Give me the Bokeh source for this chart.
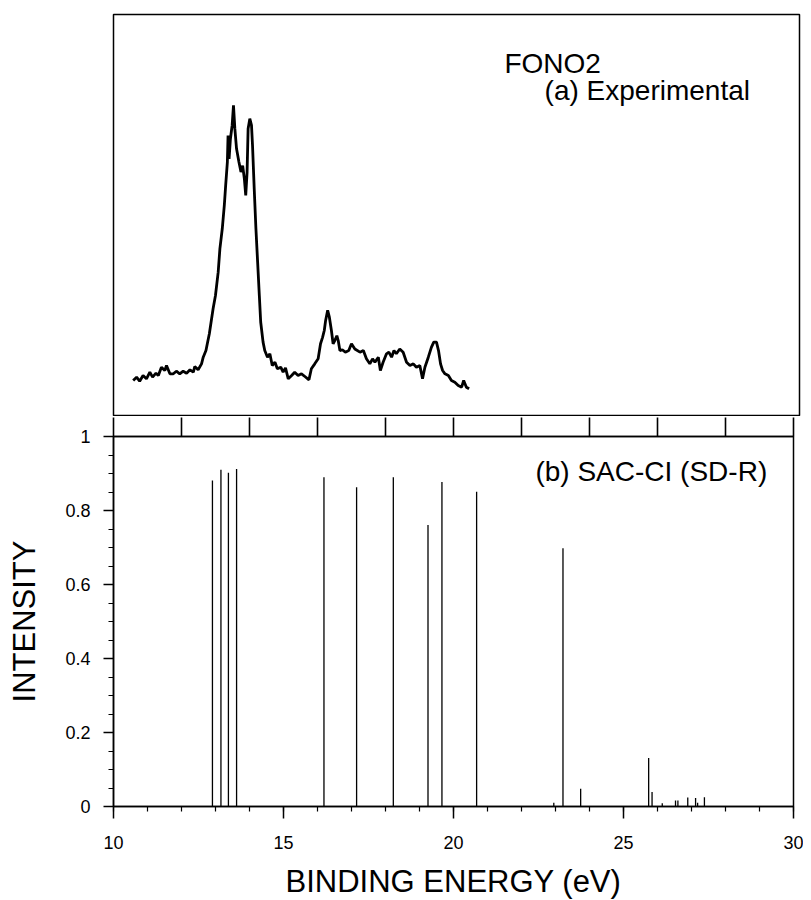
from bokeh.plotting import figure
from bokeh.layouts import column
from bokeh.models import Range1d, FixedTicker, LinearAxis, ColumnDataSource
from bokeh.core.properties import value
from bokeh.embed import file_html
from bokeh.resources import INLINE

FONT = "Liberation Sans"

# ---- (a) experimental spectrum (binding energy in eV, arbitrary intensity) ----
exp_energy = [10.47, 10.57, 10.66, 10.76, 10.86, 10.96, 11.04, 11.14, 11.21, 11.30,
              11.40, 11.45, 11.55, 11.65, 11.74, 11.84, 11.94, 12.04, 12.14, 12.24,
              12.28, 12.38, 12.48, 12.53, 12.61, 12.65, 12.71, 12.82, 12.89, 12.97,
              13.02, 13.09, 13.15, 13.19, 13.24, 13.26, 13.29, 13.33, 13.38, 13.42,
              13.46, 13.51, 13.58, 13.64, 13.69, 13.74, 13.78, 13.82, 13.85, 13.90,
              13.95, 13.98, 14.03, 14.08, 14.13, 14.18, 14.22, 14.29, 14.34, 14.42,
              14.49, 14.56, 14.64, 14.71, 14.81, 14.88, 14.95, 15.03, 15.13, 15.22,
              15.32, 15.42, 15.52, 15.64, 15.71, 15.81, 15.91, 15.98, 16.04, 16.09,
              16.13, 16.19, 16.24, 16.30, 16.35, 16.40, 16.46, 16.50, 16.55, 16.62,
              16.71, 16.81, 16.89, 16.99, 17.14, 17.24, 17.33, 17.43, 17.51, 17.58,
              17.68, 17.74, 17.82, 17.92, 17.99, 18.07, 18.14, 18.21, 18.31, 18.41,
              18.51, 18.61, 18.71, 18.80, 18.90, 18.98, 19.05, 19.15, 19.24, 19.31,
              19.39, 19.45, 19.51, 19.57, 19.64, 19.74, 19.83, 19.93, 20.03, 20.13,
              20.19, 20.27, 20.35]
exp_intensity = [8.96, 9.78, 8.78, 10.2, 9.38, 11.02, 9.78, 10.77, 10.2, 12.26,
                 11.44, 12.69, 10.62, 10.62, 11.27, 10.62, 11.27, 10.77, 11.62, 11.02,
                 12.44, 11.62, 13.1, 14.75, 16.4, 18.1, 20.6, 26.8, 30.1, 35.9,
                 41.7, 46.7, 52.5, 57.5, 63.3, 69.9, 64.1, 69.1, 72.4, 77.4,
                 71.6, 66.6, 63.3, 60.8, 62.4, 59.1, 55.0, 60.8, 71.6, 74.1,
                 72.4, 67.4, 56.6, 46.7, 38.4, 30.1, 23.5, 18.5, 16.4, 14.75,
                 15.6, 12.69, 13.5, 11.87, 12.26, 11.02, 12.1, 9.38, 10.2, 11.02,
                 10.2, 10.62, 9.95, 9.13, 11.87, 13.1, 14.35, 18.1, 19.7, 21.4,
                 23.9, 26.4, 24.7, 21.4, 18.1, 18.9, 20.1, 18.9, 16.4, 16.6,
                 16.0, 16.4, 18.1, 16.8, 16.0, 16.4, 14.35, 13.1, 14.35, 13.5,
                 14.75, 11.44, 13.5, 15.6, 16.0, 14.75, 16.4, 15.6, 16.8, 16.0,
                 13.5, 12.69, 13.1, 12.26, 12.69, 9.38, 12.26, 14.75, 17.2, 18.5,
                 18.5, 16.4, 13.1, 11.44, 10.62, 10.2, 8.96, 8.53, 7.71, 7.29,
                 8.96, 7.29, 6.89]

# ---- (b) SAC-CI (SD-R) stick spectrum ----
stick_energy = [12.91, 13.16, 13.38, 13.62, 16.19, 17.15, 18.23, 19.25, 19.66, 20.68,
                22.95, 23.22, 23.74, 25.74, 25.84, 26.14, 26.53, 26.60, 26.89, 27.12,
                27.18, 27.38]
stick_intensity = [0.881, 0.910, 0.902, 0.912, 0.890, 0.863, 0.890, 0.761, 0.877, 0.851,
                   0.010, 0.698, 0.048, 0.131, 0.039, 0.009, 0.016, 0.016, 0.024, 0.023,
                   0.010, 0.025]

top_ticks = [10, 12, 14, 16, 18, 20, 22, 24, 26, 28, 30]
x_major = [10, 15, 20, 25, 30]
x_major_labels = ["10", "15", "20", "25", "30"]
x_minor = [10, 11, 12, 13, 14, 15, 16, 17, 18, 19, 20, 21, 22, 23, 24, 25, 26, 27, 28, 29, 30]
y_major = [0, 0.2, 0.4, 0.6, 0.8, 1.0]
y_major_labels = ["0", "0.2", "0.4", "0.6", "0.8", "1"]
y_minor = [0, 0.05, 0.1, 0.15, 0.2, 0.25, 0.3, 0.35, 0.4, 0.45, 0.5, 0.55, 0.6, 0.65,
           0.7, 0.75, 0.8, 0.85, 0.9, 0.95, 1.0]

top_texts = ["FONO2", "(a) Experimental"]
top_text_x = [21.39, 22.57]
top_text_y = [87.8, 81.1]
bot_texts = ["(b) SAC-CI (SD-R)"]
bot_text_x = [22.41]
bot_text_y = [0.905]

# ---------------- top panel ----------------
top = figure(frame_width=686, frame_height=402,
             x_range=Range1d(9.891, 30.067), y_range=Range1d(0, 100),
             x_axis_location=None, y_axis_location=None,
             toolbar_location=None, output_backend="svg",
             min_border_left=112, min_border_right=5, min_border_top=14,
             min_border_bottom=0, background_fill_color="white")
top.grid.visible = False
top.outline_line_color = "black"
top.outline_line_width = 1.5
top.outline_line_alpha = 1.0
top.line(exp_energy, exp_intensity, line_color="black", line_width=2.8)
top.text(x=top_text_x, y=top_text_y, text=top_texts, text_font=value(FONT),
         text_font_size="28px", text_color="black",
         text_baseline="alphabetic", text_align="left")

# ---------------- bottom panel ----------------
bot = figure(frame_width=680, frame_height=370,
             x_range=Range1d(10, 30), y_range=Range1d(0, 1),
             toolbar_location=None, output_backend="svg",
             min_border_left=113, min_border_right=10, min_border_top=20,
             min_border_bottom=0, background_fill_color="white")
bot.grid.visible = False
bot.outline_line_color = "black"
bot.outline_line_width = 1.5
bot.outline_line_alpha = 1.0

src = ColumnDataSource(dict(x=stick_energy, top=stick_intensity,
                            base=[0.0] * len(stick_energy)))
bot.segment(x0="x", y0="base", x1="x", y1="top", source=src,
            line_color="black", line_width=1.3)

xa = bot.below[0]
ya = bot.left[0]

xa.ticker = FixedTicker(ticks=x_major, minor_ticks=x_minor)
xa.major_label_overrides = {t: s for t, s in zip(x_major, x_major_labels)}
xa.major_tick_in = 0
xa.major_tick_out = 12
xa.minor_tick_in = 0
xa.minor_tick_out = 5
xa.major_label_standoff = 17
xa.axis_label = "BINDING ENERGY (eV)"
xa.axis_label_standoff = 12

ya.ticker = FixedTicker(ticks=y_major, minor_ticks=y_minor)
ya.major_label_overrides = {t: s for t, s in zip(y_major, y_major_labels)}
ya.major_tick_in = 0
ya.major_tick_out = 10
ya.minor_tick_in = 0
ya.minor_tick_out = 5
ya.major_label_standoff = 13
ya.axis_label = "INTENSITY"
ya.axis_label_standoff = 20

for ax in (xa, ya):
    ax.axis_line_color = "black"
    ax.axis_line_width = 1.5
    ax.major_tick_line_color = "black"
    ax.major_tick_line_width = 1.5
    ax.minor_tick_line_color = "black"
    ax.minor_tick_line_width = 1.2
    ax.major_label_text_font = FONT
    ax.major_label_text_font_size = "18px"
    ax.major_label_text_color = "black"
    ax.axis_label_text_font = FONT
    ax.axis_label_text_font_size = "31px"
    ax.axis_label_text_font_style = "normal"
    ax.axis_label_text_color = "black"

# tick marks hanging between the two panels (no labels)
mid_axis = LinearAxis(ticker=FixedTicker(ticks=[], minor_ticks=top_ticks))
mid_axis.major_tick_in = 0
mid_axis.major_tick_out = 0
mid_axis.minor_tick_in = 0
mid_axis.minor_tick_out = 19
mid_axis.minor_tick_line_color = "black"
mid_axis.minor_tick_line_width = 1.6
mid_axis.axis_line_color = "black"
mid_axis.axis_line_width = 1.5
bot.add_layout(mid_axis, "above")

bot.text(x=bot_text_x, y=bot_text_y, text=bot_texts, text_font=value(FONT),
         text_font_size="28px", text_color="black",
         text_baseline="alphabetic", text_align="left")

layout = column(top, bot, spacing=0)
open("out.html", "w").write(file_html(layout, INLINE))
